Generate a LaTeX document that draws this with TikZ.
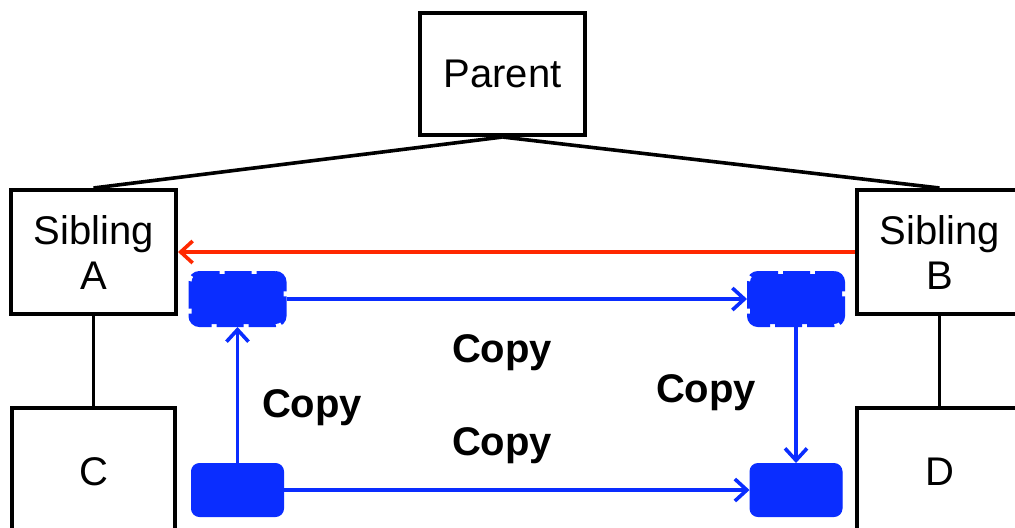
\documentclass[tikz,border=0pt]{standalone}
\usepackage{fontspec}
\setmainfont{Liberation Sans}
\usetikzlibrary{arrows.meta}
\definecolor{cblue}{RGB}{10,45,255}
\definecolor{cred}{RGB}{255,40,0}
\begin{document}
\begin{tikzpicture}[x=0.5pt,y=-0.5pt,
  famnode/.style={draw=black,line width=2pt,fill=white,inner sep=0pt,align=center,
    font=\fontsize{20pt}{22.5pt}\selectfont},
  conn/.style={draw=black,line width=1.8pt},
  solidbox/.style={fill=cblue,draw=cblue,line width=0.5pt,rounded corners=4pt,
    minimum width=46pt,minimum height=26.5pt,inner sep=0pt},
  dashbox/.style={fill=cblue,draw=cblue,line width=3pt,rounded corners=4pt,
    dash pattern=on 13.5pt off 2.5pt,dash phase=4pt,
    minimum width=46pt,minimum height=25pt,inner sep=0pt},
  copyarrow/.style={draw=cblue,line width=1.8pt,-{Straight Barb[length=6pt,width=11pt]}},
  redarrow/.style={draw=cred,line width=1.8pt,-{Straight Barb[length=6pt,width=11pt]}},
  copylabel/.style={font=\fontsize{20pt}{24pt}\selectfont\bfseries,inner sep=0pt}]
\useasboundingbox (0,0) rectangle (1015,527);
\clip (0,0) rectangle (1015,527);
% family boxes
\node[famnode,minimum width=82.5pt,minimum height=61pt] (P) at (502.5,74) {Parent};
\node[famnode,minimum width=82.5pt,minimum height=62pt] (A) at (93.5,252) {Sibling\\A};
\node[famnode,minimum width=82.5pt,minimum height=62pt] (B) at (939.5,252) {Sibling\\B};
\node[famnode,minimum width=81.5pt,minimum height=64pt] (C) at (93.5,472) {C};
\node[famnode,minimum width=82.5pt,minimum height=64pt] (D) at (939.5,472) {D};
% tree lines
\draw[conn] (P.south) -- (A.north);
\draw[conn] (P.south) -- (B.north);
\draw[conn] (A.south) -- (C.north);
\draw[conn] (B.south) -- (D.north);
% blue blocks
\node[dashbox] (tl) at (237.5,299) {};
\node[dashbox] (tr) at (796,299) {};
\node[solidbox] (bl) at (237.5,490) {};
\node[solidbox] (br) at (796,490) {};
% arrows
\draw[redarrow] (B.west) -- (A.east);
\draw[copyarrow] (tl.east) -- (tr.west);
\draw[copyarrow] (bl.north) -- (tl.south);
\draw[copyarrow] (tr.south) -- (br.north);
\draw[copyarrow] (bl.east) -- (br.west);
% labels
\node[copylabel] (l1) at (502,353) {Copy};
\node[copylabel] (l2) at (312,408) {Copy};
\node[copylabel] (l3) at (706,393) {Copy};
\node[copylabel] (l4) at (502,446) {Copy};
\end{tikzpicture}
\end{document}
